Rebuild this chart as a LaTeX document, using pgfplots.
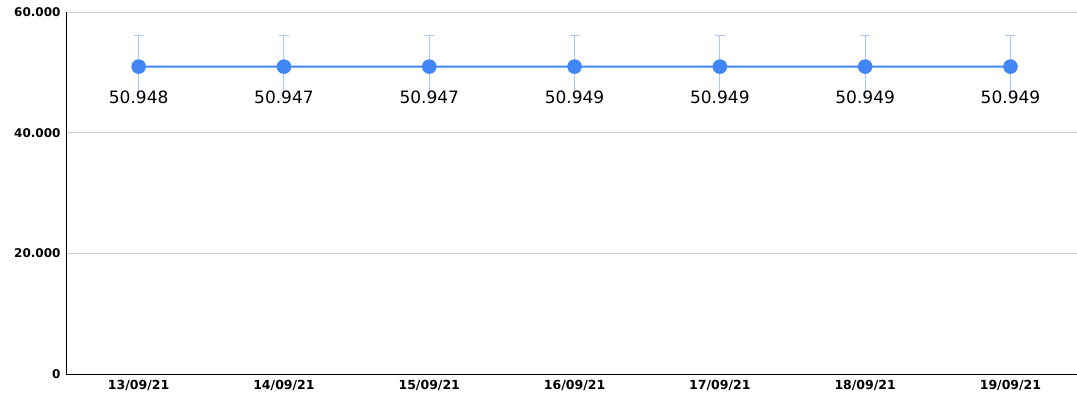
\documentclass[border=0pt]{standalone}
\usepackage{fontspec}
\setmainfont{DejaVu Sans}
\usepackage{pgfplots}
\usepackage{pgfplotstable}
\usetikzlibrary{calc}
\pgfplotsset{compat=1.18}
\definecolor{lineblue}{HTML}{4285F4}
\definecolor{errblue}{HTML}{A8C7FA}
\definecolor{gridgray}{HTML}{CCCCCC}
\pgfplotstableread{
x y e lab
0 50948 5095 50.948
1 50947 5095 50.947
2 50947 5095 50.947
3 50949 5095 50.949
4 50949 5095 50.949
5 50949 5095 50.949
6 50949 5095 50.949
}\datatab
\begin{document}
\begin{tikzpicture}[x=1pt,y=1pt]
\begin{axis}[
  name=ax,
  scale only axis,
  width=1011pt, height=362pt,
  xmin=-0.5, xmax=6.458,
  ymin=0, ymax=60000,
  scaled y ticks=false,
  axis x line*=bottom, axis y line*=left,
  axis line style={black, line width=0.8pt},
  ytick={0,20000,40000,60000},
  yticklabels={0,20.000,40.000,60.000},
  xtick={0,1,2,3,4,5,6},
  xticklabels={13/09/21,14/09/21,15/09/21,16/09/21,17/09/21,18/09/21,19/09/21},
  tick style={draw=none},
  ymajorgrids,
  grid style={gridgray, line width=0.6pt},
  yticklabel style={font=\fontsize{12}{14}\selectfont\bfseries, xshift=-2pt},
  xticklabel style={font=\fontsize{12.5}{14}\selectfont\bfseries, yshift=-3pt},
  clip=false,
]
\addplot[
  draw=none, mark=none, forget plot,
  error bars/.cd, y dir=minus, y explicit,
  error bar style={errblue, line width=1pt},
  error mark=none,
]
table[x=x, y=y, y error=e] {\datatab};
\addplot[
  color=lineblue, line width=2pt,
  mark=*, mark size=6.3pt, mark options={fill=lineblue, draw=lineblue},
  error bars/.cd, y dir=plus, y explicit,
  error bar style={errblue, line width=1pt},
  error mark options={rotate=90, mark size=5pt, errblue, line width=1pt},
]
table[x=x, y=y, y error=e] {\datatab};
\addplot[
  draw=none, mark=none,
  nodes near coords, point meta=explicit symbolic,
  nodes near coords style={anchor=center, yshift=-31pt, font=\fontsize{17}{19}\selectfont, text=black},
]
table[x=x, y=y, meta=lab] {\datatab};
\end{axis}
\pgfresetboundingbox
\path[use as bounding box] ($(ax.south west)+(-66pt,-28pt)$) rectangle ($(ax.north east)+(0pt,12pt)$);
\end{tikzpicture}
\end{document}
